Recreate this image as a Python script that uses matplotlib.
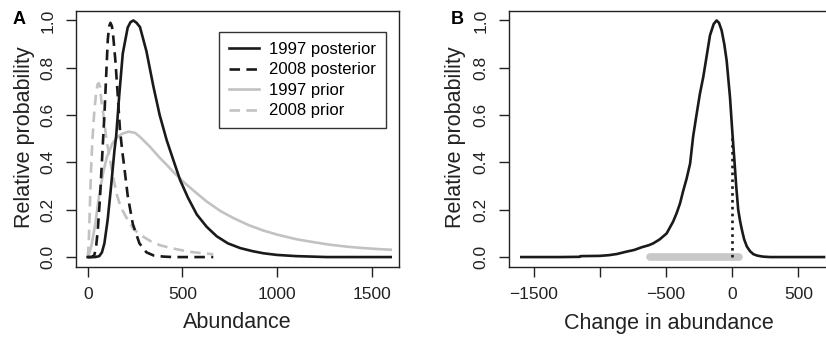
import matplotlib
matplotlib.use('Agg')
import matplotlib.pyplot as plt

plt.rcParams['font.family'] = ['Liberation Sans', 'DejaVu Sans']

# ---------------- Panel A data ----------------
post97_x = [0, 40, 61, 75, 88, 105, 123, 141, 150, 167, 185, 211, 226, 241, 258, 276, 310, 347, 380,
            417, 450, 488, 530, 576, 628, 681, 740, 805, 870, 928, 1000, 1100, 1262, 1400, 1600]
post97_y = [0, 0.0, 0.004, 0.02, 0.058, 0.156, 0.297, 0.45, 0.51, 0.69, 0.86, 0.97, 0.993, 1.0, 0.99,
            0.972, 0.87, 0.72, 0.6, 0.494, 0.415, 0.325, 0.25, 0.18, 0.128, 0.088, 0.058, 0.038, 0.025,
            0.016, 0.009, 0.004, 0.0, 0.0, 0.0]

post08_x = [0, 20, 35, 45, 53, 65, 76, 88, 97, 106, 113, 120, 128, 135, 146, 158, 170, 182, 193, 211,
            238, 273, 310, 347, 400, 450, 663]
post08_y = [0, 0.0, 0.008, 0.05, 0.114, 0.254, 0.42, 0.6, 0.76, 0.92, 0.975, 0.99, 0.975, 0.93, 0.83,
            0.69, 0.54, 0.45, 0.38, 0.26, 0.14, 0.058, 0.02, 0.007, 0.002, 0.0, 0.0]

prior97_x = [0, 10, 20, 40, 60, 80, 100, 130, 160, 185, 215, 250, 276, 329, 380, 417, 452, 505, 560,
             628, 700, 769, 850, 928, 1000, 1104, 1200, 1280, 1380, 1456, 1530, 1600]
prior97_y = [0, 0.02, 0.05, 0.14, 0.26, 0.35, 0.42, 0.48, 0.51, 0.522, 0.53, 0.525, 0.508, 0.466, 0.42,
             0.39, 0.36, 0.318, 0.28, 0.235, 0.195, 0.165, 0.135, 0.112, 0.095, 0.075, 0.062, 0.052,
             0.043, 0.038, 0.034, 0.031]

prior08_x = [0, 5, 10, 17, 25, 35, 44, 52, 58, 65, 72, 83, 100, 118, 136, 155, 175, 202, 240, 276,
             330, 382, 430, 488, 560, 663]
prior08_y = [0, 0.05, 0.18, 0.36, 0.5, 0.62, 0.69, 0.73, 0.735, 0.72, 0.66, 0.6, 0.49, 0.41, 0.33,
             0.26, 0.21, 0.17, 0.12, 0.095, 0.068, 0.05, 0.04, 0.03, 0.02, 0.012]

legend_labels = ['1997 posterior', '2008 posterior', '1997 prior', '2008 prior']

# ---------------- Panel B data ----------------
change_x = [-1592, -1300, -1150, -1145, -1000, -931, -870, -805, -740, -680, -630, -596, -547, -495,
            -446, -420, -394, -370, -345, -318, -295, -270, -244, -219, -190, -168, -140, -118, -100,
            -80, -60, -42, -17, 3, 15, 30, 45, 60, 75, 90, 110, 134, 160, 190, 230, 285, 450, 693]
change_y = [0, 0, 0.001, 0.004, 0.005, 0.008, 0.013, 0.022, 0.03, 0.042, 0.05, 0.058, 0.075, 0.1,
            0.15, 0.185, 0.227, 0.28, 0.33, 0.395, 0.51, 0.6, 0.69, 0.76, 0.86, 0.937, 0.985, 1.0, 0.99,
            0.958, 0.9, 0.83, 0.676, 0.51, 0.42, 0.3, 0.2, 0.15, 0.11, 0.075, 0.045, 0.025, 0.012,
            0.006, 0.002, 0.0, 0.0, 0.0]
zero_x = 0
zero_top = 0.52
ci_low, ci_high = -620, 52

black = '#1a1a1a'
gray = '#c2c2c2'
lw = 1.9
dash = (0, (4, 2.4))

fig = plt.figure(figsize=(8.26, 3.39), dpi=100)
axA = fig.add_axes([76 / 826, 1 - 267 / 339, 323 / 826, 256 / 339])
axB = fig.add_axes([509 / 826, 1 - 267 / 339, 326.7 / 826, 256 / 339])

# Panel A
axA.plot(prior97_x, prior97_y, color=gray, lw=lw, label=legend_labels[2], zorder=2)
axA.plot(prior08_x, prior08_y, color=gray, lw=lw, ls=dash, label=legend_labels[3], zorder=2)
axA.plot(post97_x, post97_y, color=black, lw=lw, label=legend_labels[0], zorder=3)
axA.plot(post08_x, post08_y, color=black, lw=lw, ls=dash, label=legend_labels[1], zorder=3)
axA.set_xlim(-62, 1644)
axA.set_ylim(-0.042, 1.04)
axA.set_xticks([0, 500, 1000, 1500])
axA.set_xticklabels(['0', '500', '1000', '1500'])

handles, labels = axA.get_legend_handles_labels()
order = [labels.index(l) for l in legend_labels]
leg = axA.legend([handles[i] for i in order], [labels[i] for i in order],
                 loc='upper right', bbox_to_anchor=(0.960, 0.918), borderaxespad=0,
                 frameon=True, fancybox=False, edgecolor='black', fontsize=12,
                 handlelength=1.8, labelspacing=0.33, borderpad=0.6, handletextpad=0.6)
leg.get_frame().set_linewidth(1.0)

# Panel B
axB.plot([ci_low, ci_high], [0, 0], color='#c8c8c8', lw=5.5, solid_capstyle='round', zorder=2)
axB.plot(change_x, change_y, color=black, lw=lw, zorder=3)
axB.plot([zero_x, zero_x], [0, zero_top], color=black, lw=1.9, ls=(0, (1, 1.6)), zorder=4)
axB.set_xlim(-1685, 781)
axB.set_ylim(-0.042, 1.04)
axB.set_xticks([-1500, -1000, -500, 0, 500])
axB.set_xticklabels(['\u22121500', '', '\u2212500', '0', '500'])

for ax, xl in ((axA, 'Abundance'), (axB, 'Change in abundance')):
    ax.set_yticks([0, 0.2, 0.4, 0.6, 0.8, 1.0])
    ax.set_yticklabels(['0.0', '0.2', '0.4', '0.6', '0.8', '1.0'])
    ax.tick_params(direction='out', length=7, width=1, labelsize=12.5, pad=7.5, colors='#222222')
    ax.tick_params(axis='y', pad=7.5)
    for lbl in ax.get_yticklabels():
        lbl.set_rotation(90)
        lbl.set_va('center')
    for s in ax.spines.values():
        s.set_linewidth(1.0)
        s.set_color('#222222')
    ax.set_xlabel(xl, fontsize=15.5, va='center', color='#222222')
    ax.set_ylabel('Relative probability', fontsize=15.5, va='center', color='#222222')

axA.xaxis.set_label_coords(0.5, (267 - 323) / 256)
axA.yaxis.set_label_coords((25 - 76) / 323, 0.5 + (139 - 137) / 256)
axB.xaxis.set_label_coords((669 - 509) / 326.7, (267 - 323) / 256)
axB.yaxis.set_label_coords((456 - 509) / 326.7, 0.5 + (139 - 137) / 256)

fig.text(19 / 826, 1 - 19 / 339, 'A', ha='center', va='center', fontsize=13, fontweight='bold')
fig.text(457 / 826, 1 - 19 / 339, 'B', ha='center', va='center', fontsize=13, fontweight='bold')

fig.savefig('out.png', dpi=100)
